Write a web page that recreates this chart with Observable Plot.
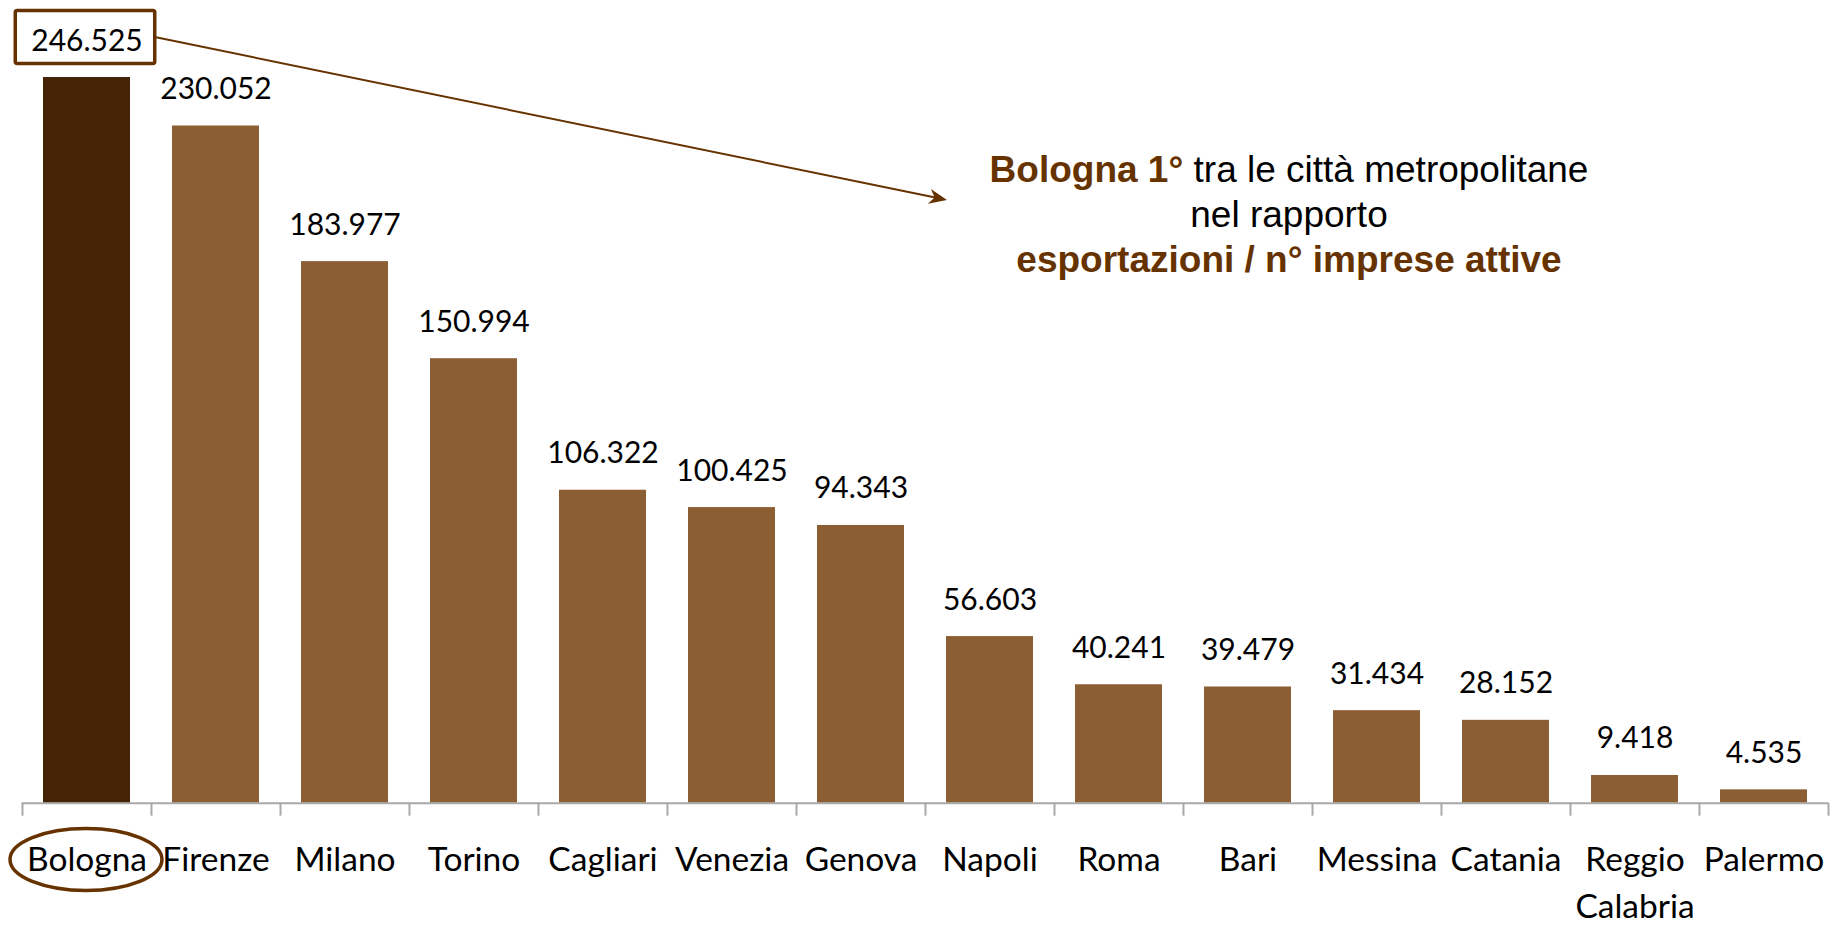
<!DOCTYPE html>
<html>
<head>
<meta charset="utf-8">
<script src="https://cdn.jsdelivr.net/npm/d3@7"></script>
<script src="https://cdn.jsdelivr.net/npm/@observablehq/plot@0.6"></script>
<style>
  html, body { margin: 0; padding: 0; background: #ffffff; }
  #chart svg { display: block; }
</style>
</head>
<body>
<div id="chart"></div>
<script>
// ---- data ----
const cities = ["Bologna", "Firenze", "Milano", "Torino", "Cagliari", "Venezia", "Genova",
  "Napoli", "Roma", "Bari", "Messina", "Catania", "Reggio\nCalabria", "Palermo"];
const values = [246525, 230052, 183977, 150994, 106322, 100425, 94343,
  56603, 40241, 39479, 31434, 28152, 9418, 4535];
const highlight = "Bologna";
const annotationLines = [
  [{text: "Bologna 1°", bold: true}, {text: " tra le città metropolitane", bold: false}],
  [{text: "nel rapporto", bold: false}],
  [{text: "esportazioni / n° imprese attive", bold: true}]
];

// ---- style ----
const W = 1832, H = 925;
const mL = 21.7, mR = 4, mT = 77, mB = 122.3;
const DARK = "#452305", LIGHT = "#8b5e34", BROWN = "#663300", AXIS = "#a9a9a9";
const step = (W - mL - mR) / cities.length;

const fmt = d3.formatLocale({decimal: ",", thousands: ".", grouping: [3], currency: ["", "€"]}).format(",d");
const data = cities.map((c, i) => ({city: c, value: values[i]}));

const plot = Plot.plot({
  width: W, height: H,
  marginLeft: mL, marginRight: mR, marginTop: mT, marginBottom: mB,
  style: {fontFamily: "Lato", background: "white", color: "black"},
  x: {domain: cities, paddingInner: 0.324, paddingOuter: 0.162, axis: null},
  y: {domain: [0, d3.max(values)], axis: null},
  marks: [
    Plot.barY(data, {x: "city", y: "value", fill: d => d.city === highlight ? DARK : LIGHT}),
    Plot.ruleY([0], {stroke: AXIS, strokeWidth: 2}),
    Plot.ruleX(cities, {x: d => d, y1: 0, y2: 0, insetBottom: -13, dx: -step / 2, stroke: AXIS, strokeWidth: 2}),
    Plot.ruleX([cities[cities.length - 1]], {x: d => d, y1: 0, y2: 0, insetBottom: -13, dx: step / 2, stroke: AXIS, strokeWidth: 2}),
    Plot.text(data, {x: "city", y: "value", text: d => fmt(d.value), dy: -27, lineAnchor: "bottom",
      fontSize: 30, fill: "black", fontFamily: "Lato"}),
    Plot.text(cities, {x: d => d, text: d => d, frameAnchor: "bottom", dy: 35, lineAnchor: "top",
      lineHeight: 1.4, fontSize: 33.5, fill: "black", fontFamily: "Lato"})
  ]
});
document.getElementById("chart").appendChild(plot);

// ---- annotations derived from rendered labels ----
const svgRect = plot.getBoundingClientRect();
function boxOf(node) {
  const r = node.getBoundingClientRect();
  return {x: r.left - svgRect.left, y: r.top - svgRect.top, w: r.width, h: r.height};
}
function topLevel(node) {
  let n = node;
  while (n.parentNode !== plot) n = n.parentNode;
  return n;
}
const texts = Array.from(plot.querySelectorAll("text"));
const hiIndex = cities.indexOf(highlight);
const valueNode = texts.find(t => t.textContent === fmt(values[hiIndex]));
const catNode = texts.find(t => t.textContent === highlight);
const ns = "http://www.w3.org/2000/svg";

// box around highlighted value
const vb = boxOf(valueNode);
const box = {x: vb.x - 16, y: vb.y - 10, w: vb.w + 28, h: vb.h + 17};
const rect = document.createElementNS(ns, "rect");
rect.setAttribute("x", box.x); rect.setAttribute("y", box.y);
rect.setAttribute("width", box.w); rect.setAttribute("height", box.h);
rect.setAttribute("rx", 2);
rect.setAttribute("fill", "white"); rect.setAttribute("stroke", BROWN); rect.setAttribute("stroke-width", 3.5);
plot.insertBefore(rect, topLevel(valueNode));

// ellipse around highlighted category
const cb = boxOf(catNode);
const ell = document.createElementNS(ns, "ellipse");
ell.setAttribute("cx", cb.x + cb.w / 2 - 1); ell.setAttribute("cy", cb.y + cb.h / 2 + 1);
ell.setAttribute("rx", cb.w / 2 + 16); ell.setAttribute("ry", cb.h / 2 + 11);
ell.setAttribute("fill", "none"); ell.setAttribute("stroke", BROWN); ell.setAttribute("stroke-width", 3.5);
plot.appendChild(ell);

// annotation text
const annot = {x: 1289, y: 182, gap: 45};
const g = d3.select(plot).append("g")
  .attr("font-family", "'Liberation Sans', Arial, sans-serif")
  .attr("font-size", 37)
  .attr("text-anchor", "middle");
annotationLines.forEach((line, i) => {
  const t = g.append("text").attr("x", annot.x).attr("y", annot.y + i * annot.gap);
  line.forEach(part => {
    t.append("tspan")
      .attr("font-weight", part.bold ? "bold" : "normal")
      .attr("fill", part.bold ? BROWN : "black")
      .attr("xml:space", "preserve")
      .text(part.text);
  });
});

// arrow from box to annotation
const start = {x: box.x + box.w, y: box.y + box.h / 2};
const tip = {x: 947, y: 200};
const dxA = tip.x - start.x, dyA = tip.y - start.y, len = Math.hypot(dxA, dyA);
const ux = dxA / len, uy = dyA / len, nx = -uy, ny = ux;
const headL = 18, headW = 7.5;
d3.select(plot).append("line")
  .attr("x1", start.x).attr("y1", start.y)
  .attr("x2", tip.x - ux * 12).attr("y2", tip.y - uy * 12)
  .attr("stroke", BROWN).attr("stroke-width", 2);
d3.select(plot).append("polygon")
  .attr("points", [
    [tip.x, tip.y],
    [tip.x - ux * headL + nx * headW, tip.y - uy * headL + ny * headW],
    [tip.x - ux * headL * 0.7, tip.y - uy * headL * 0.7],
    [tip.x - ux * headL - nx * headW, tip.y - uy * headL - ny * headW]
  ].map(p => p.join(",")).join(" "))
  .attr("fill", BROWN);
</script>
</body>
</html>
